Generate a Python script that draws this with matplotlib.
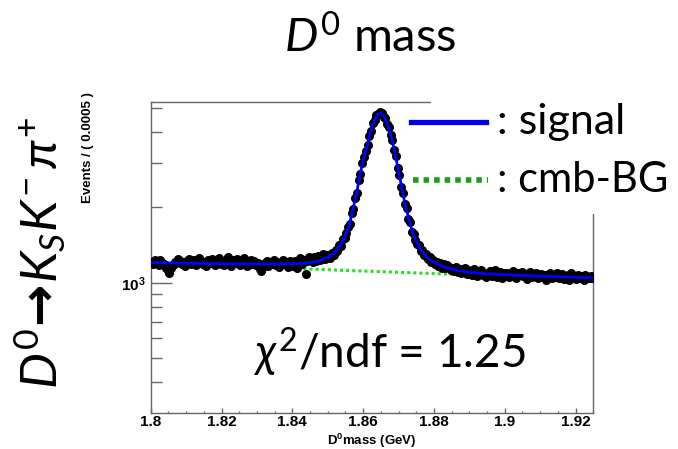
import numpy as np
import matplotlib
matplotlib.use("Agg")
import matplotlib.pyplot as plt
from matplotlib.lines import Line2D
from matplotlib.patches import Rectangle
from matplotlib.ticker import FixedLocator, NullFormatter, FixedFormatter

plt.rcParams['mathtext.fontset'] = 'custom'
plt.rcParams['mathtext.rm'] = 'Lato'
plt.rcParams['mathtext.it'] = 'Lato:italic'
plt.rcParams['mathtext.bf'] = 'Liberation Sans:bold'
plt.rcParams['mathtext.sf'] = 'DejaVu Sans:bold'
plt.rcParams['mathtext.fallback'] = 'stixsans'

# histogram: 250 bins of 0.0005 GeV from 1.800 to 1.925
x_lo, bin_w = 1.800, 0.0005
events = [
    1215, 1190, 1228, 1205, 1176, 1232, 1198, 1185, 1150, 1120,
    1098, 1142, 1178, 1210, 1195, 1240, 1221, 1187, 1205, 1163,
    1226, 1248, 1190, 1212, 1236, 1178, 1201, 1255, 1219, 1184,
    1207, 1166, 1232, 1198, 1245, 1213, 1174, 1226, 1261, 1192,
    1218, 1180, 1236, 1264, 1203, 1170, 1228, 1195, 1242, 1214,
    1181, 1223, 1250, 1197, 1165, 1210, 1238, 1189, 1216, 1172,
    1204, 1136, 1110, 1158, 1196, 1225, 1170, 1208, 1188, 1232,
    1176, 1214, 1160, 1199, 1228, 1183, 1206, 1152, 1217, 1190,
    1170, 1226, 1142, 1205, 1250, 1188, 1232, 1085, 1220, 1265,
    1240, 1208, 1262, 1222, 1276, 1235, 1258, 1300, 1248, 1286,
    1282, 1260, 1318, 1296, 1350, 1340, 1410, 1398, 1490, 1512,
    1575, 1672, 1720, 1890, 1975, 2180, 2290, 2560, 2720, 3010,
    3190, 3360, 3540, 3860, 4020, 4330, 4460, 4690, 4700, 4810,
    4780, 4600, 4560, 4300, 4190, 3880, 3720, 3380, 3210, 2870,
    2700, 2420, 2290, 2060, 1980, 1800, 1740, 1600, 1570, 1480,
    1430, 1420, 1340, 1350, 1285, 1300, 1240, 1270, 1210, 1235,
    1185, 1215, 1170, 1198, 1150, 1188, 1142, 1175, 1160, 1128,
    1150, 1118, 1160, 1105, 1138, 1092, 1130, 1145, 1084, 1120,
    1115, 1078, 1132, 1090, 1062, 1104, 1125, 1070, 1098, 1052,
    1088, 1110, 1066, 1095, 1120, 1058, 1082, 1104, 1040, 1090,
    1072, 1098, 1055, 1083, 1112, 1065, 1046, 1092, 1074, 1108,
    1060, 1087, 1035, 1070, 1101, 1052, 1078, 1096, 1044, 1068,
    1082, 1050, 1071, 1030, 1065, 1093, 1048, 1076, 1058, 1089,
    1042, 1066, 1081, 1036, 1059, 1074, 1025, 1090, 1055, 1068,
    1038, 1072, 1049, 1061, 1030, 1078, 1052, 1044, 1066, 1040,
]

# fitted total (signal + background)
fit_mass = [1.800, 1.810, 1.820, 1.830, 1.836, 1.840, 1.844, 1.847, 1.850,
            1.852, 1.854, 1.856, 1.858, 1.859, 1.860, 1.861, 1.862, 1.863,
            1.864, 1.865, 1.866, 1.867, 1.868, 1.869, 1.870, 1.871, 1.872,
            1.874, 1.876, 1.878, 1.880, 1.883, 1.886, 1.890, 1.895, 1.900,
            1.910, 1.925]
fit_total = [1204, 1197, 1191, 1187, 1186, 1190, 1198, 1214, 1262,
             1320, 1440, 1680, 2230, 2630, 3100, 3450, 3950, 4400,
             4700, 4760, 4600, 4260, 3800, 3290, 2790, 2360, 2010,
             1580, 1370, 1265, 1205, 1155, 1125, 1100, 1085, 1077,
             1062, 1046]

# combinatorial background (green dotted)
bg_mass = [1.800, 1.925]
bg_level = [1195, 1032]

frame_col = '#666666'

fig = plt.figure(figsize=(6.78, 4.49), dpi=100)
ax = fig.add_axes([150.7 / 678, 1 - 413 / 449, (593.3 - 150.7) / 678, (413 - 101.7) / 449])

centers = x_lo + bin_w * (np.arange(len(events)) + 0.5)
ax.plot(bg_mass, bg_level, color='#22e022', lw=2.2, linestyle=(0, (1, 1)), zorder=2)
ax.plot(centers, events, 'o', color='black', ms=5.5, zorder=3)
ax.plot(fit_mass, fit_total, color='#0000ff', lw=2.0, zorder=4)

ax.set_yscale('log')
ax.set_xlim(1.800, 1.925)
ax.set_ylim(302, 5280)

ax.xaxis.set_major_locator(FixedLocator([1.80, 1.82, 1.84, 1.86, 1.88, 1.90, 1.92]))
ax.xaxis.set_major_formatter(FixedFormatter(['1.8', '1.82', '1.84', '1.86', '1.88', '1.9', '1.92']))
ax.xaxis.set_minor_locator(FixedLocator([1.800 + 0.005 * i for i in range(26)]))
ax.yaxis.set_major_locator(FixedLocator([1000]))
ax.yaxis.set_major_formatter(FixedFormatter([r'$\mathbf{10^3}$']))
ax.yaxis.set_minor_locator(FixedLocator([400, 500, 600, 700, 800, 900, 2000, 3000, 4000, 5000]))
ax.yaxis.set_minor_formatter(NullFormatter())

ax.tick_params(axis='both', which='both', direction='in', color=frame_col, width=1.0,
               top=False, right=False)
ax.tick_params(axis='x', which='major', length=3.6, pad=1.5)
ax.tick_params(axis='x', which='minor', length=1.8)
ax.tick_params(axis='y', which='major', length=15, pad=4)
ax.tick_params(axis='y', which='minor', length=8)
for lab in ax.get_xticklabels() + ax.get_yticklabels():
    lab.set_fontfamily('Liberation Sans')
    lab.set_fontweight('bold')
    lab.set_fontsize(11)
for sp in ax.spines.values():
    sp.set_color(frame_col)
    sp.set_linewidth(1.0)

# overlay in pixel units for slide annotations
ov = fig.add_axes([0, 0, 1, 1])
ov.set_xlim(0, 678)
ov.set_ylim(449, 0)
ov.axis('off')

ov.add_patch(Rectangle((431, 0), 247, 214, facecolor='white', edgecolor='none'))

ov.text(372, 441, r'$\mathbf{D^0}$mass (GeV)', ha='center', va='center',
        fontfamily='Liberation Sans', fontweight='bold', fontsize=9.5)

ov.text(88, 92, 'Events / ( 0.0005 )', rotation=90, ha='center', va='top',
        fontfamily='Liberation Sans', fontweight='bold', fontsize=9.5)

ov.text(370, 37, r'$D^{\mathit{0}}$ mass', ha='center', va='center',
        fontfamily='Lato', fontsize=34)

ov.text(40, 253, r'$D^{\mathit{0}}\!\mathsf{\rightarrow}\!K_{S}K^{-}\,\pi^{+}$', rotation=90,
        ha='center', va='center', fontfamily='Lato', fontsize=36.5)

ov.text(390, 352, r'$\chi^{2}$/ndf = 1.25', ha='center', va='center',
        fontfamily='Lato', fontsize=33)

ov.add_line(Line2D([411, 486], [122, 122], color='#0000ee', lw=3.8))
ov.text(497, 122, ': signal', ha='left', va='center', fontfamily='Lato', fontsize=31)
ov.add_line(Line2D([413, 488], [180, 180], color='#1a9e1a', lw=4.0,
                   linestyle=(0, (1, 0.9))))
ov.text(497, 180, ': cmb-BG', ha='left', va='center', fontfamily='Lato', fontsize=30)

fig.savefig('out.png', dpi=100)
